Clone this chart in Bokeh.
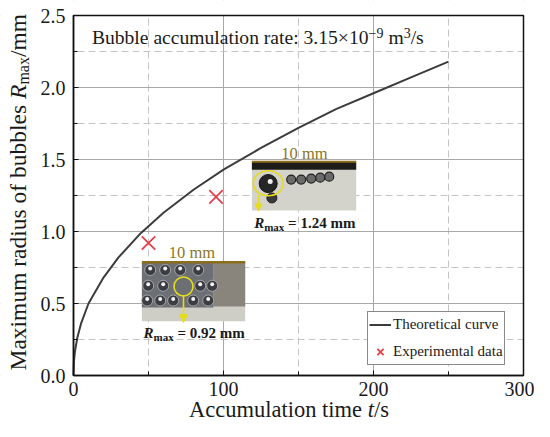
import math
from bokeh.plotting import figure
from bokeh.models import (Range1d, FixedTicker, Label, Arrow, NormalHead, Legend, LegendItem,
                          LinearAxis, Grid)
from bokeh.embed import file_html
from bokeh.resources import INLINE

# ---------------- data ----------------
curve_time = [0, 0.3, 1, 2.5, 5, 10, 20, 30, 45, 60, 80, 100, 125, 150, 175, 200, 225, 250]
curve_radius = [0, 0.10, 0.17, 0.26, 0.36, 0.50, 0.68, 0.82, 0.99, 1.13, 1.29, 1.43, 1.58, 1.72, 1.85, 1.96, 2.07, 2.18]
exp_time = [50, 95]
exp_radius = [0.92, 1.24]
x_ticks = [0, 100, 200, 300]
x_minor = [50, 150, 250]
y_ticks = [0, 0.5, 1.0, 1.5, 2.0, 2.5]
y_minor = [0.25, 0.75, 1.25, 1.75, 2.25]
y_tick_labels = ["0.0", "0.5", "1.0", "1.5", "2.0", "2.5"]
X_MIN, X_MAX, Y_MIN, Y_MAX = 0, 300, 0, 2.5

SERIF = "Liberation Serif"
TXT = "#1a1a1a"
W, H = 534, 421
K_BASE = 0.27   # empirical baseline correction for Label text (fraction of font size)

# canvas layout: plot box x 73..523, y 15..375 (pixels from the canvas' top-left)
BOX_L, BOX_R, BOX_T, BOX_B = 73.0, 523.0, 15.0, 375.0
CSX = (BOX_R - BOX_L) / (X_MAX - X_MIN)
CSY = (BOX_B - BOX_T) / (Y_MAX - Y_MIN)
def cx(px):
    return X_MIN + (px - BOX_L) / CSX
def cy(py):
    return Y_MIN + (BOX_B - py) / CSY
# reference-picture pixel -> data (for the inset sketches and in-box texts)
def tx(px):
    return (px - 73.3) / 1.5
def ry(py):
    return (382.3 - py) / 146.5

p = figure(width=W, height=H, output_backend="svg", toolbar_location=None,
           x_range=Range1d(cx(0), cx(W)), y_range=Range1d(cy(H), cy(0)), title=None,
           x_axis_location=None, y_axis_location=None,
           min_border_left=0, min_border_right=0, min_border_top=0, min_border_bottom=0)
p.background_fill_color = "white"
p.border_fill_color = "white"
p.outline_line_color = None
p.xgrid.visible = False
p.ygrid.visible = False

xt = FixedTicker(ticks=x_ticks, minor_ticks=x_minor)
yt = FixedTicker(ticks=y_ticks, minor_ticks=y_minor)

for dim, tk in ((0, xt), (1, yt)):
    g = Grid(dimension=dim, ticker=tk)
    g.grid_line_color = "#a8a8a8"
    g.grid_line_width = 1
    g.minor_grid_line_color = "#c4c4c4"
    g.minor_grid_line_dash = "7 4"
    g.minor_grid_line_width = 1
    p.add_layout(g)

# white margins around the plot box (hide grid outside the box)
p.quad(left=[cx(0), cx(0), cx(0), X_MAX], right=[X_MIN, cx(W), cx(W), cx(W)],
       bottom=[cy(H), Y_MAX, cy(H), cy(H)], top=[cy(0), cy(0), Y_MIN, cy(0)],
       fill_color="white", line_color=None)
p.quad(left=[X_MIN], right=[X_MAX], bottom=[Y_MIN], top=[Y_MAX], fill_color=None,
       line_color="#111111", line_width=1.5)

xaxis = LinearAxis(ticker=xt, fixed_location=Y_MIN, bounds=(X_MIN, X_MAX))
yaxis = LinearAxis(ticker=yt, fixed_location=X_MIN, bounds=(Y_MIN, Y_MAX))
yaxis.major_label_overrides = {v: s for v, s in zip(y_ticks, y_tick_labels)}
for ax in (xaxis, yaxis):
    ax.axis_line_color = "#111111"
    ax.axis_line_width = 1.5
    ax.major_tick_in = 5
    ax.major_tick_out = 0
    ax.minor_tick_in = 4
    ax.minor_tick_out = 0
    ax.major_tick_line_color = "#111111"
    ax.minor_tick_line_color = "#111111"
    ax.major_label_text_font = SERIF
    ax.major_label_text_font_size = "20px"
    ax.major_label_text_color = TXT
xaxis.major_label_standoff = 6
yaxis.major_label_standoff = 8
p.add_layout(xaxis, "below")
p.add_layout(yaxis, "left")

# ---------------- series ----------------
curve_r = p.line(curve_time, curve_radius, line_color="#3c3c3c", line_width=2)
exp_r = p.scatter(exp_time, exp_radius, marker="x", size=19, line_color="#e5404c", line_width=1.8)

# ---------------- inset photo sketches ----------------
YEL = "#e6dc1a"
GOLD = "#8b6d1e"
# inset 1
p.quad(left=[tx(141.7)], right=[tx(245)], bottom=[ry(327)], top=[ry(266.7)], fill_color="#cfcec6", line_color=None)
p.quad(left=[tx(141.7)], right=[tx(213)], bottom=[ry(313)], top=[ry(267)], fill_color="#6c6f74", line_color=None)
p.quad(left=[tx(213)], right=[tx(245)], bottom=[ry(312)], top=[ry(267)], fill_color="#8a857c", line_color=None)
b1x = [150, 165, 180, 198, 148, 163, 200, 212, 147, 160, 173, 193, 208]
b1y = [275, 275, 275, 275, 291, 291, 291, 291, 306, 306, 306, 306, 306]
p.scatter([tx(v) for v in b1x], [ry(v) for v in b1y], size=11, fill_color="#3b3d42", line_color="#b8b8b8", line_width=0.8)
p.scatter([tx(v) for v in b1x], [ry(v - 1.5) for v in b1y], size=4, fill_color="#f2f2f2", line_color=None)
p.segment(x0=[tx(141.7)], x1=[tx(245)], y0=[ry(267)], y1=[ry(267)], line_color=GOLD, line_width=2.5)
p.scatter([tx(183.3)], [ry(291.7)], size=19, fill_color=None, line_color=YEL, line_width=1.6)
p.add_layout(Arrow(end=NormalHead(size=8, fill_color=YEL, line_color=YEL), x_start=tx(183.3), y_start=ry(301),
                   x_end=tx(183.3), y_end=ry(328.5), line_color=YEL, line_width=1.6))
# inset 2
p.quad(left=[tx(251.7)], right=[tx(356)], bottom=[ry(214.5)], top=[ry(164.5)], fill_color="#d3d2cb", line_color=None)
p.quad(left=[tx(251.7)], right=[tx(356)], bottom=[ry(173)], top=[ry(165)], fill_color="#1e1c19", line_color=None)
p.segment(x0=[tx(251.7)], x1=[tx(356)], y0=[ry(164.8)], y1=[ry(164.8)], line_color=GOLD, line_width=2)
b2x = [291, 301, 311, 320, 329]
b2y = [183, 183, 182, 181, 180]
p.scatter([tx(v) for v in b2x], [ry(v) for v in b2y], size=9, fill_color="#6a6a6a", line_color="#202020", line_width=1.2)
p.scatter([tx(271.7)], [ry(201.7)], size=10, fill_color="#3a3a3a", line_color="#202020")
p.scatter([tx(268)], [ry(187)], size=18, fill_color="#262626", line_color="#101010")
p.scatter([tx(270)], [ry(185)], size=5, fill_color="#f0f0f0", line_color=None)
p.ellipse(x=[tx(268)], y=[ry(186.7)], width=30, height=25, width_units="screen", height_units="screen",
          fill_color=None, line_color=YEL, line_width=1.6)
p.add_layout(Arrow(end=NormalHead(size=7, fill_color=YEL, line_color=YEL), x_start=tx(258.3), y_start=ry(199),
                   x_end=tx(258.3), y_end=ry(215), line_color=YEL, line_width=1.6))

# ---------------- composite texts ----------------
W_REG = {' ': 250, 'A': 722, 'B': 667, 'M': 889, 'R': 667, 'a': 444, 'b': 500, 'c': 444, 'd': 500, 'e': 444,
         'f': 333, 'i': 278, 'l': 278, 'm': 778, 'n': 500, 'o': 500, 'r': 333, 's': 389, 't': 278, 'u': 500,
         'x': 500, '/': 278, ':': 278, '.': 250, '\u00d7': 564, '\u2212': 564, '=': 564}
W_IT = {'R': 611, 't': 278}
W_BOLD = {' ': 250, 'm': 833, 'a': 500, 'x': 500, '=': 570, '.': 250}
W_BI = {'R': 667}

def text_width(s, size, style):
    tab = {"normal": W_REG, "italic": W_IT, "bold": W_BOLD, "bold italic": W_BI}[style]
    return sum(tab.get(ch, W_REG.get(ch, 500)) for ch in s) * size / 1000.0

def compose(segments, px, py, conv_x, conv_y, vertical=False):
    for s, size, style, shift, color in segments:
        lead = len(s) - len(s.lstrip())
        off = text_width(s[:lead], size, style)
        corr = K_BASE * size
        if vertical:
            lx, ly = px + shift - corr, py - off
        else:
            lx, ly = px + off, py + shift - corr
        p.add_layout(Label(x=conv_x(lx), y=conv_y(ly), text=s.strip(), text_font=SERIF, text_font_size=f"{size}px",
                           text_font_style=style, text_color=color, text_align="left",
                           text_baseline="alphabetic", angle=(math.pi / 2 if vertical else 0)))
        w = text_width(s, size, style)
        if vertical:
            py -= w
        else:
            px += w

compose([("Bubble accumulation rate: 3.15\u00d710", 19.6, "normal", 0, TXT),
         ("\u22129", 14, "normal", -6, TXT),
         (" m", 19.6, "normal", 0, TXT),
         ("3", 14, "normal", -6, TXT),
         ("/s", 19.6, "normal", 0, TXT)], 91.7, 43.3, tx, ry)

compose([("Accumulation time ", 22.5, "normal", 0, TXT),
         ("t", 22.5, "italic", 0, TXT),
         ("/s", 22.5, "normal", 0, TXT)], 188.5, 415, cx, cy)

compose([("Maximum radius of bubbles ", 23.5, "normal", 0, TXT),
         ("R", 23.5, "italic", 0, TXT),
         ("max", 16, "normal", 4, TXT),
         ("/mm", 23.5, "normal", 0, TXT)], 23.5, 370, cx, cy, vertical=True)

compose([("R", 15, "bold italic", 0, TXT),
         ("max", 11, "bold", 3, TXT),
         (" = 0.92 mm", 15, "bold", 0, TXT)], 143.3, 343.3, tx, ry)
compose([("R", 15, "bold italic", 0, TXT),
         ("max", 11, "bold", 3, TXT),
         (" = 1.24 mm", 15, "bold", 0, TXT)], 254, 231, tx, ry)

for lx, by in ((191.7, 262), (304.2, 160.5)):
    p.add_layout(Label(x=tx(lx), y=ry(by - K_BASE * 16.5), text="10 mm", text_font=SERIF, text_font_size="16.5px",
                       text_color="#8a7626", text_align="center", text_baseline="alphabetic"))

# ---------------- legend ----------------
legend = Legend(items=[LegendItem(label="Theoretical curve", renderers=[curve_r]),
                       LegendItem(label="Experimental data", renderers=[exp_r])],
                location=(367, H - (BOX_B - 10)))
legend.label_text_font = SERIF
legend.label_text_font_size = "15px"
legend.label_text_color = TXT
legend.border_line_color = "#111111"
legend.border_line_width = 1.5
legend.background_fill_color = "white"
legend.background_fill_alpha = 1
legend.margin = 0
legend.padding = 1
legend.spacing = 4
legend.glyph_width = 22
legend.glyph_height = 23
legend.label_height = 23
legend.label_standoff = 2
p.add_layout(legend)

open("out.html", "w").write(file_html(p, INLINE))
